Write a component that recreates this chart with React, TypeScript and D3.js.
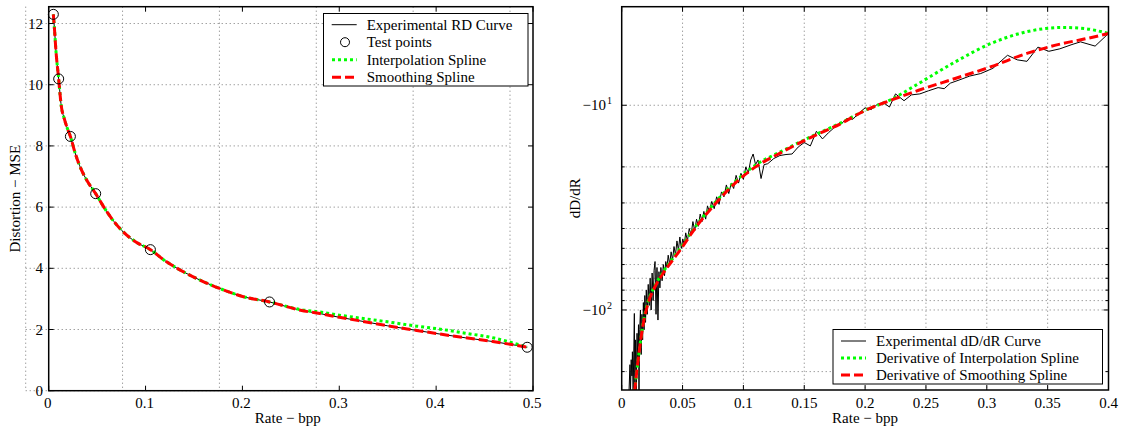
import React from "react";
import * as d3 from "d3";

// ---------- Left panel data (Rate vs Distortion) ----------
const rdRate = [0.0048, 0.006, 0.0075, 0.0103, 0.013, 0.016, 0.0195, 0.0224, 0.027, 0.032, 0.038, 0.0485, 0.06, 0.075, 0.09, 0.105, 0.12, 0.14, 0.16, 0.18, 0.2, 0.228, 0.26, 0.28, 0.3, 0.32, 0.35, 0.38, 0.4, 0.43, 0.46, 0.494];
const rdDist = [12.3, 11.8, 11.1, 10.19, 9.3, 8.9, 8.55, 8.31, 7.8, 7.35, 6.95, 6.44, 5.85, 5.25, 4.86, 4.61, 4.25, 3.87, 3.56, 3.3, 3.08, 2.9, 2.63, 2.52, 2.4, 2.29, 2.12, 1.97, 1.87, 1.73, 1.6, 1.42];
const interpDist = [12.3, 11.8, 11.1, 10.19, 9.3, 8.9, 8.55, 8.31, 7.8, 7.35, 6.95, 6.44, 5.85, 5.25, 4.86, 4.61, 4.25, 3.87, 3.56, 3.3, 3.08, 2.9, 2.65, 2.57, 2.47, 2.38, 2.25, 2.11, 2.03, 1.88, 1.72, 1.42];
const smoothDist = [12.3, 11.8, 11.1, 10.19, 9.3, 8.9, 8.55, 8.31, 7.8, 7.35, 6.95, 6.44, 5.85, 5.25, 4.86, 4.61, 4.25, 3.87, 3.56, 3.3, 3.08, 2.9, 2.63, 2.52, 2.4, 2.29, 2.12, 1.97, 1.87, 1.73, 1.6, 1.42];
const testRate = [0.0048, 0.0103, 0.0224, 0.0485, 0.105, 0.228, 0.494];
const testDist = [12.3, 10.19, 8.31, 6.44, 4.61, 2.9, 1.42];
const leftXTicks = [0, 0.1, 0.2, 0.3, 0.4, 0.5];
const leftXTickLabels = ["0", "0.1", "0.2", "0.3", "0.4", "0.5"];
const leftYTicks = [0, 2, 4, 6, 8, 10, 12];
const leftLegend = ["Experimental RD Curve", "Test points", "Interpolation Spline", "Smoothing Spline"];

// ---------- Right panel data (Rate vs dD/dR magnitude, negative log axis) ----------
const expRate = [0.0060, 0.0068, 0.0072, 0.0078, 0.0084, 0.0088, 0.0094, 0.0100, 0.0104, 0.0108, 0.0114, 0.0120, 0.0126, 0.0132, 0.0138, 0.0142, 0.0148, 0.0154, 0.0160, 0.0166, 0.0172, 0.0178, 0.0184, 0.0190, 0.0196, 0.0202, 0.0210, 0.0218, 0.0226, 0.0234, 0.0242, 0.0250, 0.0258, 0.0266, 0.0274, 0.0282, 0.0290, 0.0298, 0.0306, 0.0314, 0.0322, 0.0332, 0.0342, 0.0352, 0.0362, 0.0372, 0.0382, 0.0394, 0.0406, 0.0418, 0.0430, 0.0442, 0.0454, 0.0466, 0.0478, 0.0490, 0.0502, 0.0514, 0.0526, 0.0540, 0.0555, 0.0570, 0.0585, 0.0600, 0.0615, 0.0630, 0.0645, 0.0660, 0.0675, 0.0690, 0.0705, 0.0720, 0.0740, 0.0760, 0.0780, 0.0800, 0.0820, 0.0840, 0.0860, 0.0880, 0.0900, 0.0920, 0.0940, 0.0960, 0.0980, 0.1000, 0.1020, 0.1040, 0.1060, 0.1080, 0.1100, 0.1120, 0.1145, 0.1170, 0.1200, 0.1250, 0.1300, 0.1350, 0.1400, 0.1450, 0.1500, 0.1550, 0.1600, 0.1650, 0.1700, 0.1750, 0.1800, 0.1850, 0.1900, 0.1950, 0.2000, 0.2050, 0.2100, 0.2150, 0.2200, 0.2250, 0.2320, 0.2380, 0.2450, 0.2520, 0.2600, 0.2650, 0.2700, 0.2780, 0.2860, 0.2950, 0.3050, 0.3170, 0.3250, 0.3330, 0.3420, 0.3510, 0.3600, 0.3700, 0.3770, 0.3890, 0.4000];
const expSlope = [250, 185, 250, 175, 210, 160, 250, 150, 104, 250, 140, 250, 130, 180, 118, 250, 125, 100, 165, 105, 140, 92, 125, 85, 115, 80, 105, 75, 95, 70, 100, 66, 90, 64, 58, 105, 62, 112, 65, 78, 62, 72, 60, 68, 58, 62, 54, 60, 52, 57, 49, 54, 46, 51, 44, 50, 45, 48, 42, 46, 40, 43, 37, 41, 36, 39, 34, 37, 33, 36, 31, 33, 29.5, 32, 28, 30.5, 26.5, 28, 24.5, 27, 24, 25.5, 22, 24, 21.5, 23, 20, 21.5, 18.5, 17.3, 19.5, 18.5, 22.8, 19.5, 19.3, 18.2, 17.6, 17.4, 17.3, 16.0, 15.2, 15.8, 13.4, 14.6, 13.6, 12.8, 12.4, 11.6, 11.7, 10.9, 10.3, 10.5, 9.9, 9.7, 10.2, 8.8, 9.5, 8.9, 8.8, 8.5, 8.2, 8.3, 7.8, 7.5, 7.2, 7.0, 6.6, 5.7, 6.0, 6.1, 5.2, 5.45, 5.3, 5.05, 4.9, 5.14, 4.46];
const fitRate = [0.0106, 0.0145, 0.0178, 0.0219, 0.0274, 0.0342, 0.041, 0.048, 0.0602, 0.0775, 0.09, 0.11, 0.132, 0.156, 0.18, 0.2, 0.221, 0.244, 0.274, 0.3035, 0.333, 0.3625, 0.38, 0.4];
const interpSlope = [250, 157, 114, 90, 76, 65, 57, 50, 39.5, 29.5, 24.6, 19.6, 16.7, 14.2, 12.2, 10.6, 9.4, 7.83, 6.14, 4.99, 4.37, 4.17, 4.22, 4.46];
const smoothSlope = [250, 157, 116, 92, 77, 66, 58, 51, 40, 30, 25, 20, 16.9, 14.3, 12.3, 10.6, 9.46, 8.45, 7.4, 6.48, 5.58, 4.99, 4.75, 4.46];
const rightXTicks = [0, 0.05, 0.1, 0.15, 0.2, 0.25, 0.3, 0.35, 0.4];
const rightXTickLabels = ["0", "0.05", "0.1", "0.15", "0.2", "0.25", "0.3", "0.35", "0.4"];
const rightYMajor = [10, 100];
const rightYMajorExp = ["1", "2"];
const rightYGrid = [10, 20, 30, 40, 50, 60, 70, 80, 90, 100, 200];
const rightLegend = ["Experimental dD/dR Curve", "Derivative of Interpolation Spline", "Derivative of Smoothing Spline"];

const FONT = "'Liberation Serif', 'Times New Roman', serif";
const GREEN = "#00ff00";
const RED = "#ff0000";

export default function App() {
  // Left panel geometry
  const L = { x0: 48.7, x1: 533, y0: 6.7, y1: 390.7 };
  const xL = d3.scaleLinear().domain([0, 0.5]).range([L.x0, L.x1]);
  const yL = d3.scaleLinear().domain([0, 12.55]).range([L.y1, L.y0]);
  const gridShift = -23;

  // Right panel geometry
  const R = { x0: 621.7, x1: 1108.5, y0: 6.7, y1: 390 };
  const xR = d3.scaleLinear().domain([0, 0.4]).range([R.x0, R.x1]);
  const yR = d3.scaleLog().domain([3.3, 246]).range([R.y0, R.y1]);

  const lineL = (xs: number[], ys: number[]) =>
    d3.line<number>().x((_, i) => xL(xs[i])).y((d) => yL(d)).curve(d3.curveMonotoneX)(ys) || "";
  const lineRsmooth = (xs: number[], ys: number[]) =>
    d3.line<number>().x((_, i) => xR(xs[i])).y((d) => yR(d)).curve(d3.curveMonotoneX)(ys) || "";
  const lineRraw = (xs: number[], ys: number[]) =>
    d3.line<number>().x((_, i) => xR(xs[i])).y((d) => yR(d))(ys) || "";

  const gridStyle = { stroke: "#777", strokeWidth: 1, strokeDasharray: "1 3", fill: "none" };
  const tickLen = 5;

  return (
    <svg width={1122} height={428} style={{ position: "absolute", left: 0, top: 0, background: "#fff" }} fontFamily={FONT}>
      <defs>
        <clipPath id="clipR">
          <rect x={R.x0} y={R.y0} width={R.x1 - R.x0} height={R.y1 - R.y0} />
        </clipPath>
        <clipPath id="clipL">
          <rect x={L.x0} y={L.y0 - 8} width={L.x1 - L.x0 + 8} height={L.y1 - L.y0 + 8} />
        </clipPath>
      </defs>
      <rect x={0} y={0} width={1122} height={428} fill="#fff" />

      {/* ================= LEFT PANEL ================= */}
      <g>
        {leftXTicks.map((t) => (
          <line key={"lgx" + t} x1={xL(t) + gridShift} x2={xL(t) + gridShift} y1={L.y0} y2={L.y1} style={gridStyle} />
        ))}
        {leftYTicks.map((t) => (
          <line key={"lgy" + t} x1={xL(0) + gridShift} x2={xL(0.5) + gridShift} y1={yL(t)} y2={yL(t)} style={gridStyle} />
        ))}
        {/* series */}
        <path d={lineL(rdRate, rdDist)} fill="none" stroke="#000" strokeWidth={1} />
        <path d={lineL(rdRate, interpDist)} fill="none" stroke={GREEN} strokeWidth={3} strokeDasharray="3 3" />
        <path d={lineL(rdRate, smoothDist)} fill="none" stroke={RED} strokeWidth={3} strokeDasharray="9 4" />
        {testRate.map((r, i) => (
          <circle key={"tp" + i} cx={xL(r)} cy={yL(testDist[i])} r={5} fill="none" stroke="#000" strokeWidth={1} />
        ))}
        {/* frame */}
        <rect x={L.x0} y={L.y0} width={L.x1 - L.x0} height={L.y1 - L.y0} fill="none" stroke="#000" strokeWidth={1.5} />
        {leftXTicks.map((t) => (
          <g key={"ltx" + t}>
            <line x1={xL(t)} x2={xL(t)} y1={L.y1} y2={L.y1 - tickLen} stroke="#000" />
            <line x1={xL(t)} x2={xL(t)} y1={L.y0} y2={L.y0 + tickLen} stroke="#000" />
          </g>
        ))}
        {leftYTicks.map((t) => (
          <g key={"lty" + t}>
            <line x1={L.x0} x2={L.x0 + tickLen} y1={yL(t)} y2={yL(t)} stroke="#000" />
            <line x1={L.x1} x2={L.x1 - tickLen} y1={yL(t)} y2={yL(t)} stroke="#000" />
          </g>
        ))}
        {leftXTicks.map((t, i) => (
          <text key={"lxl" + t} x={xL(t) - 1} y={407.5} fontSize={15} textAnchor="middle">{leftXTickLabels[i]}</text>
        ))}
        {leftYTicks.map((t) => (
          <text key={"lyl" + t} x={43} y={yL(t) + 5} fontSize={15} textAnchor="end">{String(t)}</text>
        ))}
        <text x={(L.x0 + L.x1) / 2 - 3} y={423} fontSize={15} textAnchor="middle">Rate − bpp</text>
        <text transform={`translate(19.5, ${(L.y0 + L.y1) / 2}) rotate(-90)`} fontSize={15} textAnchor="middle">Distortion − MSE</text>

        {/* legend */}
        <rect x={323.5} y={13.5} width={204.5} height={72.5} fill="#fff" stroke="#000" strokeWidth={1} />
        {leftLegend.map((s, i) => {
          const y = 24.7 + i * 17.5;
          return (
            <g key={"ll" + i}>
              {i === 0 && <line x1={331.7} x2={356.7} y1={y} y2={y} stroke="#000" strokeWidth={1} />}
              {i === 1 && <circle cx={345} cy={y} r={4.5} fill="none" stroke="#000" strokeWidth={1} />}
              {i === 2 && <line x1={332} x2={356.7} y1={y} y2={y} stroke={GREEN} strokeWidth={3} strokeDasharray="3 3" />}
              {i === 3 && <line x1={332} x2={356.7} y1={y} y2={y} stroke={RED} strokeWidth={3} strokeDasharray="9 4" />}
              <text x={366.7} y={y + 5} fontSize={15}>{s}</text>
            </g>
          );
        })}
      </g>

      {/* ================= RIGHT PANEL ================= */}
      <g>
        {rightXTicks.slice(1, -1).map((t) => (
          <line key={"rgx" + t} x1={xR(t)} x2={xR(t)} y1={R.y0} y2={R.y1} style={gridStyle} />
        ))}
        {rightYGrid.map((v) => (
          <line key={"rgy" + v} x1={R.x0} x2={R.x1} y1={yR(v)} y2={yR(v)} style={gridStyle} />
        ))}
        <g clipPath="url(#clipR)">
          <path d={lineRraw(expRate, expSlope)} fill="none" stroke="#000" strokeWidth={1} />
          <path d={lineRsmooth(fitRate, interpSlope)} fill="none" stroke={GREEN} strokeWidth={3} strokeDasharray="3 3" />
          <path d={lineRsmooth(fitRate, smoothSlope)} fill="none" stroke={RED} strokeWidth={3} strokeDasharray="9 4" />
        </g>
        <rect x={R.x0} y={R.y0} width={R.x1 - R.x0} height={R.y1 - R.y0} fill="none" stroke="#000" strokeWidth={1.5} />
        {rightXTicks.map((t) => (
          <g key={"rtx" + t}>
            <line x1={xR(t)} x2={xR(t)} y1={R.y1} y2={R.y1 - tickLen} stroke="#000" />
            <line x1={xR(t)} x2={xR(t)} y1={R.y0} y2={R.y0 + tickLen} stroke="#000" />
          </g>
        ))}
        {rightYGrid.map((v) => {
          const len = rightYMajor.includes(v) ? tickLen : 3;
          return (
            <g key={"rty" + v}>
              <line x1={R.x0} x2={R.x0 + len} y1={yR(v)} y2={yR(v)} stroke="#000" />
              <line x1={R.x1} x2={R.x1 - len} y1={yR(v)} y2={yR(v)} stroke="#000" />
            </g>
          );
        })}
        {rightXTicks.map((t, i) => (
          <text key={"rxl" + t} x={xR(t)} y={407.5} fontSize={15} textAnchor="middle">{rightXTickLabels[i]}</text>
        ))}
        {rightYMajor.map((v, i) => (
          <g key={"ryl" + v}>
            <text x={606} y={yR(v) + 5} fontSize={15} textAnchor="end">−10</text>
            <text x={607} y={yR(v) - 1} fontSize={10} textAnchor="start">{rightYMajorExp[i]}</text>
          </g>
        ))}
        <text x={(R.x0 + R.x1) / 2} y={423} fontSize={15} textAnchor="middle">Rate − bpp</text>
        <text transform={`translate(579.5, ${(R.y0 + R.y1) / 2}) rotate(-90)`} fontSize={15} textAnchor="middle">dD/dR</text>

        {/* legend */}
        <rect x={833} y={329.5} width={269.5} height={54.5} fill="#fff" stroke="#000" strokeWidth={1} />
        {rightLegend.map((s, i) => {
          const y = 341 + i * 17;
          return (
            <g key={"rl" + i}>
              {i === 0 && <line x1={841} x2={866} y1={y} y2={y} stroke="#000" strokeWidth={1} />}
              {i === 1 && <line x1={841} x2={866} y1={y} y2={y} stroke={GREEN} strokeWidth={3} strokeDasharray="3 3" />}
              {i === 2 && <line x1={841} x2={866} y1={y} y2={y} stroke={RED} strokeWidth={3} strokeDasharray="9 4" />}
              <text x={876} y={y + 5} fontSize={15}>{s}</text>
            </g>
          );
        })}
      </g>
    </svg>
  );
}
